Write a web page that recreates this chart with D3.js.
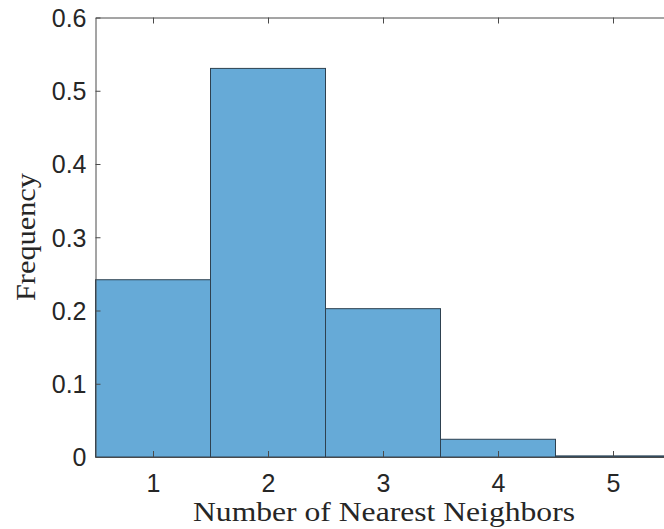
<!DOCTYPE html>
<html>
<head>
<meta charset="utf-8">
<script src="https://cdn.jsdelivr.net/npm/d3@7"></script>
<style>
  html, body { margin: 0; padding: 0; background: #fff; }
  svg { display: block; }
</style>
</head>
<body>
<svg id="chart" width="664" height="529"></svg>
<script>
// Histogram of nearest-neighbour counts (normalised frequency)
const binCenters = [1, 2, 3, 4, 5];
const frequencies = [0.242, 0.5305, 0.2025, 0.0242, 0.0015];
const xTicks = [1, 2, 3, 4, 5];
const yTicks = [0, 0.1, 0.2, 0.3, 0.4, 0.5, 0.6];

const svg = d3.select("#chart");
const plotLeft = 95.5, plotTop = 17.5, plotRight = 670.5, plotBottom = 457;

const x = d3.scaleLinear().domain([0.5, 5.5]).range([plotLeft, plotRight]);
const y = d3.scaleLinear().domain([0, 0.6]).range([plotBottom, plotTop]);

const axisColor = "#4a4a4a";
const tickFont = "'Liberation Sans', Arial, Helvetica, sans-serif";
const labelFont = "'Liberation Serif', 'DejaVu Serif', serif";

// bars
svg.append("g")
  .selectAll("rect")
  .data(binCenters)
  .join("rect")
  .attr("x", (d) => x(d - 0.5))
  .attr("width", (d) => x(d + 0.5) - x(d - 0.5))
  .attr("y", (d, i) => y(frequencies[i]))
  .attr("height", (d, i) => y(0) - y(frequencies[i]))
  .attr("fill", "#66aad7")
  .attr("stroke", "#2e4150")
  .attr("stroke-width", 1);

// axes (box with inward ticks)
const yAxis = d3.axisLeft(y).tickValues(yTicks).tickSizeInner(-5).tickSizeOuter(0)
  .tickFormat(d3.format("~g")).tickPadding(9);
const xAxis = d3.axisBottom(x).tickValues(xTicks).tickSizeInner(-6).tickSizeOuter(0)
  .tickFormat(d3.format("d")).tickPadding(17);
const xTop = d3.axisTop(x).tickValues(xTicks).tickSizeInner(-6).tickSizeOuter(0)
  .tickFormat("");

const gy = svg.append("g").attr("transform", `translate(${plotLeft},0)`).call(yAxis);
const gx = svg.append("g").attr("transform", `translate(0,${plotBottom})`).call(xAxis);
const gt = svg.append("g").attr("transform", `translate(0,${plotTop})`).call(xTop);

[gy, gx, gt].forEach((g) => {
  g.select(".domain").attr("stroke", axisColor).attr("stroke-width", 1);
  g.selectAll(".tick line").attr("stroke", axisColor).attr("stroke-width", 1);
  g.selectAll(".tick text")
    .attr("fill", "#262626")
    .style("font-family", tickFont)
    .style("font-size", "25px");
});
gy.selectAll(".tick text").attr("dy", "0.35em");
gx.selectAll(".tick text").attr("dy", "0.71em");

// axis labels
svg.append("text")
  .attr("x", 384)
  .attr("y", 521)
  .attr("text-anchor", "middle")
  .attr("fill", "#262626")
  .attr("textLength", 382)
  .attr("lengthAdjust", "spacingAndGlyphs")
  .style("font-family", labelFont)
  .style("font-size", "28px")
  .text("Number of Nearest Neighbors");

svg.append("text")
  .attr("transform", "translate(35,237) rotate(-90)")
  .attr("text-anchor", "middle")
  .attr("fill", "#262626")
  .attr("textLength", 128)
  .attr("lengthAdjust", "spacingAndGlyphs")
  .style("font-family", labelFont)
  .style("font-size", "28px")
  .text("Frequency");
</script>
</body>
</html>
